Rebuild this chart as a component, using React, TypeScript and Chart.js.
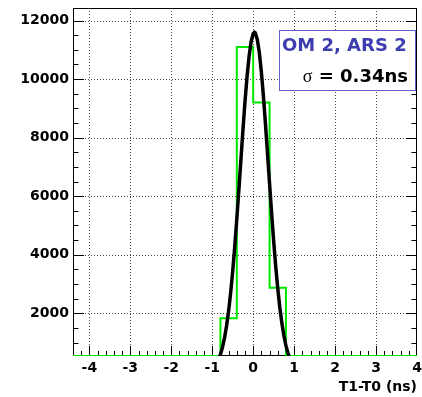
import { useEffect, useRef } from "react";
import { Chart, registerables } from "chart.js";

Chart.register(...registerables);

// Histogram of T1-T0, 0.4 ns bins from -4.4 ns to 4.0 ns
const binEdges = [
  -4.4, -4.0, -3.6, -3.2, -2.8, -2.4, -2.0, -1.6, -1.2, -0.8, -0.4,
  0.0, 0.4, 0.8, 1.2, 1.6, 2.0, 2.4, 2.8, 3.2, 3.6, 4.0,
];
const binCounts = [
  0, 0, 0, 0, 0, 0, 0, 0, 0, 1830, 11100, 9200, 2870, 0, 0, 0, 0, 0, 0, 0, 0,
];

// Gaussian fit curve, sampled along x
const fitX = [
  -0.85, -0.8, -0.75, -0.7, -0.65, -0.6, -0.55, -0.5, -0.45, -0.4, -0.35, -0.3,
  -0.25, -0.2, -0.15, -0.1, -0.05, 0.0, 0.03, 0.05, 0.1, 0.15, 0.2, 0.25, 0.3,
  0.35, 0.4, 0.45, 0.5, 0.55, 0.6, 0.65, 0.7, 0.75, 0.8, 0.85, 0.9,
];
const fitY = [
  407, 589, 834, 1158, 1570, 2083, 2707, 3442, 4283, 5213, 6212, 7243,
  8264, 9228, 10083, 10782, 11283, 11555, 11600, 11580, 11357, 10899, 10237, 9410, 8463,
  7450, 6417, 5409, 4461, 3602, 2846, 2199, 1664, 1232, 892, 633, 439,
];

const xTicks = [-4, -3, -2, -1, 0, 1, 2, 3, 4];
const yTicks = [2000, 4000, 6000, 8000, 10000, 12000];

const X_MIN = -4.4;
const X_MAX = 4.0;
const Y_MIN = 540;
const Y_MAX = 12430;
const X_MINOR = 0.2;
const Y_MINOR = 500;

const boxTitle = "OM 2, ARS 2";
const boxSigma = "σ";
const boxValue = " = 0.34ns";

const FONT = "'DejaVu Sans', sans-serif";

// Frame, dotted grid and inward tick marks, drawn beneath the data
const framePlugin = {
  id: "frame",
  beforeDatasetsDraw(chart: any) {
    const { ctx, chartArea: a } = chart;
    const xs = chart.scales.x;
    const ys = chart.scales.y;
    const line = (x1: number, y1: number, x2: number, y2: number) => {
      ctx.beginPath();
      ctx.moveTo(x1, y1);
      ctx.lineTo(x2, y2);
      ctx.stroke();
    };
    ctx.save();

    // dotted grid
    ctx.strokeStyle = "#4a4a4a";
    ctx.lineWidth = 1;
    ctx.setLineDash([1, 2]);
    for (const v of xTicks) {
      const px = Math.round(xs.getPixelForValue(v)) + 0.5;
      if (px <= a.left + 1 || px >= a.right - 1) continue;
      line(px, a.top, px, a.bottom);
    }
    for (const v of yTicks) {
      const py = Math.round(ys.getPixelForValue(v)) + 0.5;
      if (py <= a.top + 1 || py >= a.bottom - 1) continue;
      line(a.left, py, a.right, py);
    }
    ctx.setLineDash([]);

    // frame
    ctx.strokeStyle = "#000";
    ctx.lineWidth = 1;
    ctx.strokeRect(a.left + 0.5, a.top + 0.5, a.right - a.left - 1, a.bottom - a.top - 1);

    // x ticks (bottom, pointing up)
    const kx0 = Math.ceil(X_MIN / X_MINOR - 1e-6);
    const kx1 = Math.floor(X_MAX / X_MINOR + 1e-6);
    for (let k = kx0; k <= kx1; k++) {
      const v = k * X_MINOR;
      const major = k % 5 === 0;
      const px = Math.round(xs.getPixelForValue(v)) + 0.5;
      if (px >= a.right - 1) continue;
      line(px, a.bottom, px, a.bottom - (major ? 10 : 5));
    }

    // y ticks (left and right, pointing inward)
    const ky0 = Math.ceil(Y_MIN / Y_MINOR);
    const ky1 = Math.floor(Y_MAX / Y_MINOR);
    for (let k = ky0; k <= ky1; k++) {
      const v = k * Y_MINOR;
      const major = k % 4 === 0;
      const len = major ? 11 : 5.5;
      const py = Math.round(ys.getPixelForValue(v)) + 0.5;
      line(a.left, py, a.left + len, py);
      line(a.right, py, a.right - len, py);
    }
    ctx.restore();
  },
  afterDraw(chart: any) {
    const { ctx } = chart;
    const bx = 279;
    const by = 30;
    const bw = 136;
    const bh = 60;
    ctx.save();
    ctx.fillStyle = "#fff";
    ctx.fillRect(bx, by, bw, bh);
    ctx.strokeStyle = "#6262c8";
    ctx.lineWidth = 1;
    ctx.strokeRect(bx + 0.5, by + 0.5, bw, bh);

    ctx.textBaseline = "alphabetic";
    ctx.textAlign = "left";
    ctx.font = `bold 18px ${FONT}`;
    ctx.fillStyle = "#3d3db0";
    ctx.fillText(boxTitle, bx + 3, by + 21);

    const right = bx + bw - 7;
    ctx.font = `bold 18px ${FONT}`;
    const wv = ctx.measureText(boxValue).width;
    ctx.fillStyle = "#000";
    ctx.fillText(boxValue, right - wv, by + 52);
    ctx.font = `18px 'Liberation Serif', serif`;
    const ws = ctx.measureText(boxSigma).width;
    ctx.fillText(boxSigma, right - wv - ws, by + 52);
    ctx.restore();
  },
};

export default function App() {
  const ref = useRef<HTMLCanvasElement | null>(null);

  useEffect(() => {
    const canvas = ref.current;
    if (!canvas) return;

    const histPoints = binCounts.map((c, i) => ({ x: binEdges[i], y: Math.max(c, Y_MIN) }));
    histPoints.push({
      x: binEdges[binEdges.length - 1],
      y: Math.max(binCounts[binCounts.length - 1], Y_MIN),
    });
    const fitPoints = fitX.map((x, i) => ({ x, y: fitY[i] }));

    const tickFont = { family: FONT, size: 14, weight: "bold" as const };

    const chart = new Chart(canvas, {
      type: "line",
      data: {
        datasets: [
          {
            label: "fit",
            data: fitPoints,
            borderColor: "#000",
            borderWidth: 3.5,
            pointRadius: 0,
            tension: 0,
            fill: false,
            clip: 0,
            order: 0,
          },
          {
            label: "T1-T0",
            data: histPoints,
            borderColor: "#00e800",
            borderWidth: 2,
            pointRadius: 0,
            stepped: "before",
            fill: false,
            order: 1,
          },
        ],
      },
      options: {
        animation: false,
        responsive: false,
        events: [],
        layout: { padding: { top: 8, right: 5, left: 0, bottom: 0 } },
        plugins: {
          legend: { display: false },
          tooltip: { enabled: false },
        },
        scales: {
          x: {
            type: "linear",
            min: X_MIN,
            max: X_MAX,
            afterBuildTicks: (s: any) => {
              s.ticks = xTicks.map((v) => ({ value: v }));
            },
            afterFit: (s: any) => {
              s.height = 41;
              s.paddingLeft = 0;
              s.paddingRight = 0;
            },
            grid: { display: false, drawTicks: false },
            border: { display: false },
            ticks: {
              font: tickFont,
              color: "#000",
              padding: 4,
              maxRotation: 0,
              autoSkip: false,
              callback: (v: any) => String(v),
            },
            title: {
              display: true,
              text: "T1-T0 (ns)",
              align: "end",
              color: "#000",
              font: tickFont,
              padding: { top: 0, bottom: 1 },
            },
          },
          y: {
            type: "linear",
            min: Y_MIN,
            max: Y_MAX,
            afterBuildTicks: (s: any) => {
              s.ticks = yTicks.map((v) => ({ value: v }));
            },
            afterFit: (s: any) => {
              s.width = 73;
              s.paddingTop = 0;
              s.paddingBottom = 0;
            },
            grid: { display: false, drawTicks: false },
            border: { display: false },
            ticks: {
              font: tickFont,
              color: "#000",
              padding: 4,
              autoSkip: false,
              callback: (v: any) => String(v),
            },
          },
        },
      },
      plugins: [framePlugin],
    });

    return () => chart.destroy();
  }, []);

  return (
    <div style={{ position: "fixed", left: 0, top: 0, width: 422, height: 397, background: "#fff" }}>
      <canvas ref={ref} width={422} height={397} style={{ width: 422, height: 397 }} />
    </div>
  );
}
